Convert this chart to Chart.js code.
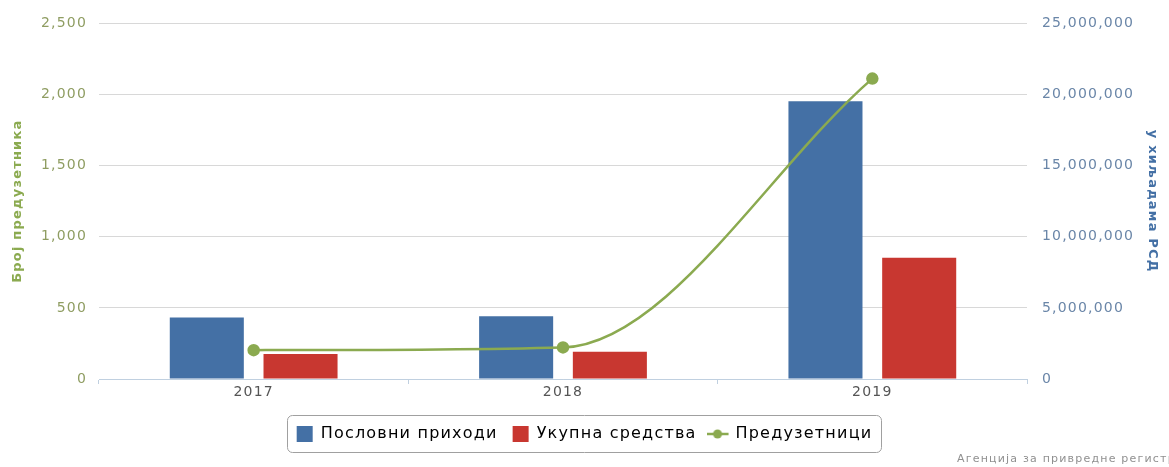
<!DOCTYPE html>
<html lang="sr">

<head>
    <meta charset="UTF-8">
    <title>Предузетници</title>
    <script src="https://cdn.jsdelivr.net/npm/chart.js@4"></script>
    <style>
        body { margin: 0; background: #fff; }
        #wrap { width: 1169px; height: 467px; position: relative; }
    </style>
</head>

<body>
    <div id="wrap"><canvas id="chart"></canvas></div>

    <script>
        const years = ["2017", "2018", "2019"];
        const poslovniPrihodi = [4320000, 4420000, 19530000];
        const ukupnaSredstva = [1750000, 1920000, 8530000];
        const preduzetnici = [203, 222, 2112];
        const leftTicks = [0, 500, 1000, 1500, 2000, 2500];
        const rightTicks = [0, 5000000, 10000000, 15000000, 20000000, 25000000];

        const blue = "#4470a5";
        const red = "#c83730";
        const green = "#8baa50";
        const font = "'DejaVu Sans', Verdana, sans-serif";

        // small picture for the line item of the legend: line with a dot
        // (drawn in the left part so that it keeps off the label text)
        const lineIcon = document.createElement("canvas");
        lineIcon.width = 26;
        lineIcon.height = 12;
        const ic = lineIcon.getContext("2d");
        ic.strokeStyle = green;
        ic.lineWidth = 2.5;
        ic.beginPath();
        ic.moveTo(0, 6);
        ic.lineTo(22, 6);
        ic.stroke();
        ic.fillStyle = green;
        ic.beginPath();
        ic.arc(11, 6, 4.5, 0, Math.PI * 2);
        ic.fill();

        // the reference text is a bit wider than DejaVu, so space the letters
        const spacing = {
            id: "spacing",
            beforeLayout(chart) { chart.ctx.letterSpacing = "1.2px"; },
            beforeDraw(chart) { chart.ctx.letterSpacing = "1.2px"; }
        };

        const extras = {
            id: "extras",
            afterDraw(chart) {
                const ctx = chart.ctx;
                const boxes = chart.legend.legendHitBoxes;
                if (boxes && boxes.length) {
                    let l = Infinity, r = -Infinity, t = Infinity, b = -Infinity;
                    boxes.forEach(h => {
                        l = Math.min(l, h.left); r = Math.max(r, h.left + h.width);
                        t = Math.min(t, h.top); b = Math.max(b, h.top + h.height);
                    });
                    const cy = (t + b) / 2;
                    ctx.save();
                    ctx.strokeStyle = "#a0a0a0";
                    ctx.lineWidth = 1;
                    ctx.beginPath();
                    ctx.roundRect(Math.round(l) - 9.5, Math.round(cy) - 18.5, Math.round(r - l) + 18, 37, 5);
                    ctx.stroke();
                    ctx.restore();
                }
                ctx.save();
                ctx.font = "11px " + font;
                ctx.fillStyle = "#909090";
                ctx.textAlign = "left";
                ctx.textBaseline = "middle";
                ctx.fillText("Агенција за привредне регистре", 957, 459);
                ctx.restore();
            }
        };

        new Chart(document.getElementById("chart"), {
            type: "bar",
            data: {
                labels: years,
                datasets: [{
                    label: "Пословни приходи",
                    data: poslovniPrihodi,
                    backgroundColor: blue,
                    yAxisID: "y1",
                    order: 2,
                    categoryPercentage: 0.606,
                    barPercentage: 0.79
                }, {
                    label: "Укупна средства",
                    data: ukupnaSredstva,
                    backgroundColor: red,
                    yAxisID: "y1",
                    order: 2,
                    categoryPercentage: 0.606,
                    barPercentage: 0.79
                }, {
                    type: "line",
                    label: "Предузетници",
                    data: preduzetnici,
                    borderColor: green,
                    backgroundColor: green,
                    borderWidth: 2.5,
                    pointRadius: 5,
                    pointHoverRadius: 5,
                    cubicInterpolationMode: "monotone",
                    capBezierPoints: false,
                    yAxisID: "y",
                    order: 1
                }]
            },
            options: {
                responsive: true,
                maintainAspectRatio: false,
                animation: false,
                layout: { padding: { top: 14, bottom: 15, left: 0, right: 0 } },
                plugins: {
                    tooltip: { enabled: false },
                    legend: {
                        position: "bottom",
                        labels: {
                            usePointStyle: true,
                            boxWidth: 16,
                            boxHeight: 16,
                            padding: 15,
                            color: "#333",
                            font: { family: font, size: 16 },
                            generateLabels(chart) {
                                return chart.data.datasets.map((ds, i) => ({
                                    text: ds.label,
                                    fillStyle: ds.backgroundColor,
                                    strokeStyle: ds.backgroundColor,
                                    lineWidth: 0,
                                    pointStyle: i === 2 ? lineIcon : "rect",
                                    datasetIndex: i
                                }));
                            }
                        }
                    }
                },
                scales: {
                    x: {
                        afterFit(scale) { scale.height = 32; },
                        border: { color: "#c0d0e0" },
                        grid: { drawOnChartArea: false, drawTicks: true, tickLength: 5, color: "#c0d0e0" },
                        ticks: { color: "#555", font: { family: font, size: 14 }, padding: 0 }
                    },
                    y: {
                        position: "left",
                        min: 0,
                        max: 2500,
                        afterBuildTicks(scale) { scale.ticks = leftTicks.map(v => ({ value: v })); },
                        afterFit(scale) { scale.width = 99; },
                        border: { display: false },
                        grid: { color: "#d8d8d8", drawTicks: false },
                        ticks: {
                            color: "#8f9d62",
                            font: { family: font, size: 14 },
                            padding: 12,
                            callback: v => v.toLocaleString("en-US")
                        },
                        title: {
                            display: true,
                            text: "Број предузетника",
                            color: "#8baa50",
                            font: { family: font, size: 13, weight: "bold" },
                            padding: { top: 10, bottom: 0 }
                        }
                    },
                    y1: {
                        position: "right",
                        min: 0,
                        max: 25000000,
                        afterBuildTicks(scale) { scale.ticks = rightTicks.map(v => ({ value: v })); },
                        afterFit(scale) { scale.width = 142; },
                        border: { display: false },
                        grid: { drawOnChartArea: false, drawTicks: false },
                        ticks: {
                            color: "#6a86a8",
                            font: { family: font, size: 14 },
                            padding: 15,
                            callback: v => v.toLocaleString("en-US")
                        },
                        title: {
                            display: true,
                            text: "у хиљадама РСД",
                            color: "#4470a5",
                            font: { family: font, size: 13, weight: "bold" },
                            padding: { top: 9, bottom: 0 }
                        }
                    }
                }
            },
            plugins: [spacing, extras]
        });
    </script>
</body>

</html>
